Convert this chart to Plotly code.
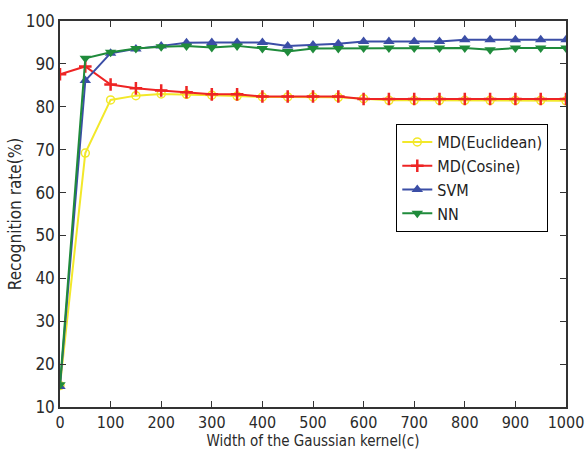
import plotly.graph_objects as go

x_vals = [0, 50, 100, 150, 200, 250, 300, 350, 400, 450, 500,
          550, 600, 650, 700, 750, 800, 850, 900, 950, 1000]
md_euclidean = [15.0, 69.2, 81.6, 82.6, 83.0, 82.9, 82.7, 82.5, 82.3, 82.3, 82.3,
                82.2, 81.9, 81.5, 81.5, 81.5, 81.5, 81.5, 81.5, 81.5, 81.4]
md_cosine = [87.6, 89.4, 85.2, 84.3, 83.8, 83.4, 82.9, 82.9, 82.4, 82.4, 82.4,
             82.4, 81.8, 81.8, 81.8, 81.8, 81.8, 81.8, 81.8, 81.8, 81.8]
svm = [14.8, 86.1, 92.5, 93.5, 94.2, 94.9, 95.0, 95.0, 95.0, 94.2, 94.4,
       94.7, 95.2, 95.2, 95.2, 95.2, 95.6, 95.6, 95.6, 95.6, 95.6]
nn = [15.2, 91.3, 92.7, 93.6, 94.0, 94.2, 93.8, 94.2, 93.6, 92.9, 93.6,
      93.6, 93.7, 93.7, 93.7, 93.7, 93.7, 93.3, 93.7, 93.7, 93.7]

x_ticks = list(range(0, 1001, 100))
y_ticks = list(range(10, 101, 10))

FONT = "DejaVu Sans Condensed, Liberation Sans Narrow, Arial Narrow, Liberation Sans, Arial, sans-serif"
TXT = "#2a2a2a"

fig = go.Figure()
fig.add_trace(go.Scatter(x=x_vals, y=md_euclidean, name="MD(Euclidean)", mode="lines+markers",
                         line=dict(color="#f2e82a", width=2),
                         marker=dict(symbol="circle-open", size=8, color="#f2e82a", line=dict(width=1.5))))
fig.add_trace(go.Scatter(x=x_vals, y=md_cosine, name="MD(Cosine)", mode="lines+markers",
                         line=dict(color="#ee2424", width=2),
                         marker=dict(symbol="cross-thin-open", size=9, color="#ee2424", line=dict(width=2.5, color="#ee2424"))))
fig.add_trace(go.Scatter(x=x_vals, y=svm, name="SVM", mode="lines+markers",
                         line=dict(color="#3b4ea6", width=2),
                         marker=dict(symbol="triangle-up", size=10, color="#3b4ea6")))
fig.add_trace(go.Scatter(x=x_vals, y=nn, name="NN", mode="lines+markers",
                         line=dict(color="#1f8b3b", width=2),
                         marker=dict(symbol="triangle-down", size=10, color="#1f8b3b")))

axis_common = dict(showgrid=False, zeroline=False, showline=True, linecolor="#333333", linewidth=1.5,
                   mirror="ticks", ticks="inside", ticklen=6, tickcolor="#333333", automargin=False,
                   ticklabeloverflow="allow")

fig.update_layout(
    width=585, height=452,
    margin=dict(l=60, r=19, t=21, b=45),
    paper_bgcolor="white", plot_bgcolor="white",
    font=dict(family=FONT, color=TXT),
    xaxis=dict(range=[0, 1000], tickvals=x_ticks,
               tickfont=dict(family=FONT, size=16, color=TXT),
               title=dict(text="Width of the Gaussian kernel(c)", font=dict(family=FONT, size=15, color=TXT), standoff=0),
               **axis_common),
    yaxis=dict(range=[10, 100], tickvals=y_ticks,
               tickfont=dict(family=FONT, size=17, color=TXT),
               title=dict(text="Recognition rate(%)", font=dict(family=FONT, size=17, color=TXT), standoff=0),
               **axis_common),
    legend=dict(x=0.965, y=0.733, xanchor="right", yanchor="top", bgcolor="white",
                bordercolor="black", borderwidth=1, font=dict(family=FONT, size=16, color="#222222"),
                tracegroupgap=0, itemwidth=30),
    showlegend=True,
)

fig.write_html("out.html")
